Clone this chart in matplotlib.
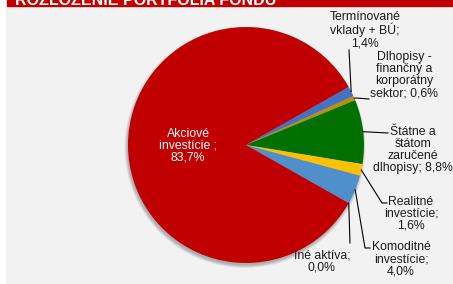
import numpy as np
import matplotlib.pyplot as plt
from matplotlib.patches import Rectangle, Circle
from matplotlib.transforms import Bbox

plt.rcParams['font.family'] = ['Liberation Sans', 'DejaVu Sans']

# data (clockwise from the upper right)
labels = ['Termínované\nvklady + BÚ;\n1,4%',
          'Dlhopisy -\nfinančný a\nkorporátny\nsektor; 0,6%',
          'Štátne a\nštátom\nzaručené\ndlhopisy; 8,8%',
          'Realitné\ninvestície;\n1,6%',
          'Komoditné\ninvestície;\n4,0%',
          'Iné aktíva;\n0,0%',
          'Akciové\ninvestície ;\n83,7%']
values = [1.4, 0.6, 8.8, 1.6, 4.0, 0.0, 83.7]
colors = ['#4472c4', '#bf9000', '#007000', '#ffc000', '#4f8fcc', '#a5a5a5', '#c00000']
title = 'ROZLOŽENIE PORTFÓLIA FONDU'

W, H = 453, 284
fig = plt.figure(figsize=(W / 100, H / 100), dpi=100)
ax = fig.add_axes([0, 0, 1, 1])

def py(y):  # pixel row -> data y
    return H - y

# background panel + red banner
ax.add_patch(Rectangle((6, py(283)), W - 6, 276, color='#f2f2f2', zorder=0))
ax.add_patch(Rectangle((7, py(5.5)), W - 8, 6, color='#c00000', zorder=1, clip_on=False))

cx, cy, r = 246, py(145), 118

# soft shadow
for k in range(6):
    ax.add_patch(Circle((cx - 1, cy - 2.5), r + 2.5 - k * 0.6,
                        color='black', alpha=0.05, lw=0, zorder=2))

total = sum(values)
start = 180 * (total - values[-1]) / total
wedges, _ = ax.pie(values, colors=colors, startangle=start, counterclock=False,
                   center=(cx, cy), radius=r, frame=True,
                   wedgeprops=dict(linewidth=0, zorder=3))
ax.set_xlim(0, W)
ax.set_ylim(0, H)
ax.set_aspect('equal')
ax.axis('off')

t = ax.text(15, py(5), title, color='white', fontsize=11.5, fontweight='bold',
            va='baseline', ha='left', zorder=2)
t.set_clip_box(ax.transData.transform_bbox(Bbox([[7, py(5.5)], [W, H]])))
t.set_clip_on(True)

# label positions (pixel coords: center of text) and leader anchor points
label_pos = [(365, 30), (404, 75), (413, 150), (411, 214), (401, 259), (322, 262)]
leader_end = [(349, 50), (369, 99), (388, 133), (387, 203), (370, 248), (350, 243)]
leader_mid = [None, (356, 98), None, (382, 203), (365, 248), None]

fs = 8.8
for i, w in enumerate(wedges[:-1]):
    th = np.deg2rad((w.theta1 + w.theta2) / 2)
    x0, y0 = cx + r * np.cos(th), cy + r * np.sin(th)
    pts = [(x0, y0)]
    if leader_mid[i] is not None:
        pts.append((leader_mid[i][0], py(leader_mid[i][1])))
    pts.append((leader_end[i][0], py(leader_end[i][1])))
    xs, ys = zip(*pts)
    ax.plot(xs, ys, color='black', lw=0.8, zorder=4)
    lx, ly = label_pos[i]
    ax.text(lx, py(ly), labels[i], ha='center', va='center', fontsize=fs,
            linespacing=1.0, color='#1a1a1a', zorder=5)

ax.text(188, py(146), labels[-1], ha='center', va='center', fontsize=fs,
        linespacing=1.0, color='white', zorder=5)

fig.savefig('out.png', dpi=100, facecolor='white')
